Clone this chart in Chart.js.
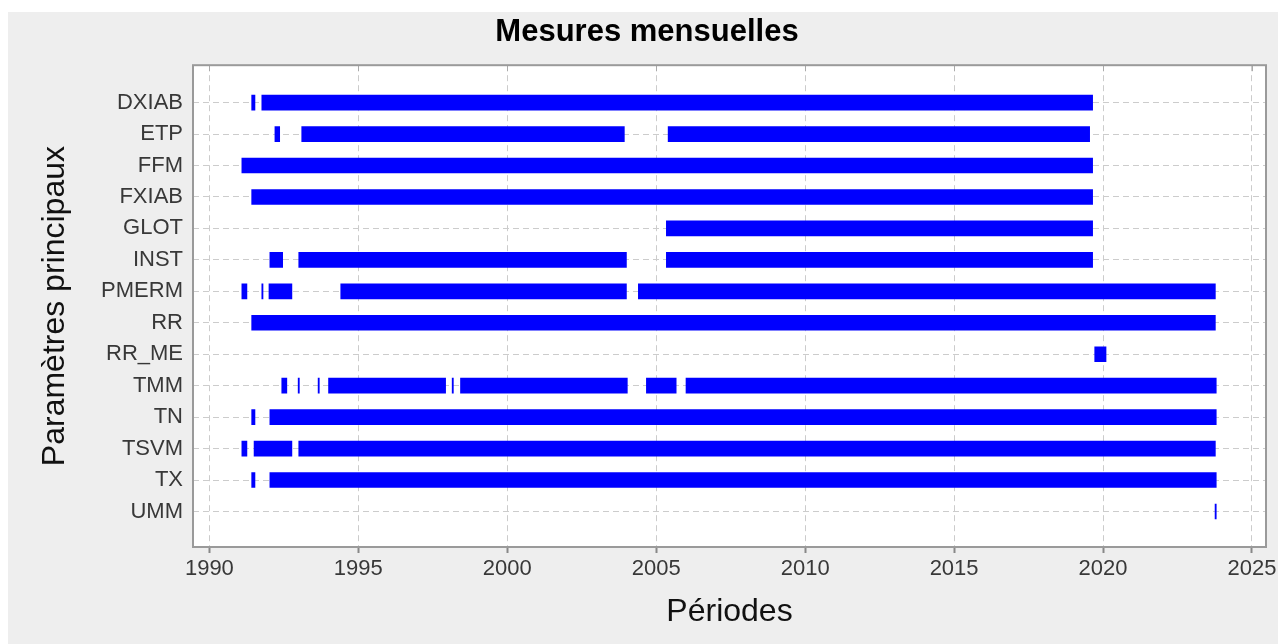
<!DOCTYPE html>
<html>
<head>
<meta charset="utf-8">
<title>Mesures mensuelles</title>
<script src="https://cdn.jsdelivr.net/npm/chart.js@4.4.0/dist/chart.umd.min.js"></script>
<style>
    html, body { margin: 0; padding: 0; background: #ffffff; }
    canvas { display: block; }
</style>
</head>
<body>
<canvas id="periodes" width="1278" height="644"></canvas>
<script>
// Parameters, top to bottom
const parametres = ['DXIAB', 'ETP', 'FFM', 'FXIAB', 'GLOT', 'INST', 'PMERM', 'RR', 'RR_ME', 'TMM', 'TN', 'TSVM', 'TX', 'UMM'];

// Measurement periods per parameter, [start, end] in decimal years
const periodesDXIAB = [[1991.42, 1991.53], [1991.76, 2019.65]];
const periodesETP = [[1992.20, 1992.36], [1993.10, 2003.93], [2005.40, 2019.55]];
const periodesFFM = [[1991.09, 2019.65]];
const periodesFXIAB = [[1991.42, 2019.65]];
const periodesGLOT = [[2005.34, 2019.65]];
const periodesINST = [[1992.03, 1992.46], [1993.00, 2004.00], [2005.34, 2019.65]];
const periodesPMERM = [[1991.09, 1991.26], [1991.76, 1991.80], [1992.00, 1992.77], [1994.41, 2004.00], [2004.40, 2023.77]];
const periodesRR = [[1991.42, 2023.77]];
const periodesRR_ME = [[2019.72, 2020.10]];
const periodesTMM = [[1992.43, 1992.60], [1992.98, 1993.02], [1993.65, 1993.69], [1994.00, 1997.93],
    [1998.15, 1998.19], [1998.43, 2004.03], [2004.67, 2005.67], [2006.00, 2023.80]];
const periodesTN = [[1991.42, 1991.53], [1992.03, 2023.80]];
const periodesTSVM = [[1991.09, 1991.26], [1991.50, 1992.77], [1993.00, 2023.77]];
const periodesTX = [[1991.42, 1991.53], [1992.03, 2023.80]];
const periodesUMM = [[2023.76, 2023.80]];

const anneesTicks = [1990, 1995, 2000, 2005, 2010, 2015, 2020, 2025];

const toutesPeriodes = [periodesDXIAB, periodesETP, periodesFFM, periodesFXIAB, periodesGLOT, periodesINST,
    periodesPMERM, periodesRR, periodesRR_ME, periodesTMM, periodesTN, periodesTSVM, periodesTX, periodesUMM];

const barres = [];
toutesPeriodes.forEach((liste, i) => {
    liste.forEach(p => barres.push({ x: p, y: i }));
});

const FONT = '"Liberation Sans", Arial, Helvetica, sans-serif';

// Figure background, white plot area, box and small inner ticks on top
const fondPlugin = {
    id: 'fond',
    beforeDraw(chart) {
        const { ctx, chartArea: a } = chart;
        ctx.save();
        ctx.fillStyle = '#ffffff';
        ctx.fillRect(0, 0, chart.width, chart.height);
        ctx.fillStyle = '#eeeeee';
        ctx.fillRect(8, 12, chart.width - 8, chart.height - 12);
        ctx.fillStyle = '#ffffff';
        ctx.fillRect(a.left, a.top, a.right - a.left, a.bottom - a.top);
        ctx.restore();
    },
    afterDraw(chart) {
        const { ctx, chartArea: a } = chart;
        const xs = chart.scales.x;
        ctx.save();
        ctx.strokeStyle = '#aaaaaa';
        ctx.lineWidth = 1;
        xs.ticks.forEach(t => {
            const px = Math.round(xs.getPixelForValue(t.value)) + 0.5;
            ctx.beginPath();
            ctx.moveTo(px, a.top);
            ctx.lineTo(px, a.top + 6);
            ctx.stroke();
        });
        ctx.strokeStyle = '#9a9a9a';
        ctx.lineWidth = 2;
        ctx.strokeRect(a.left, a.top, a.right - a.left, a.bottom - a.top);
        ctx.restore();
    }
};

new Chart(document.getElementById('periodes'), {
    type: 'bar',
    data: {
        datasets: [{
            data: barres,
            backgroundColor: '#0000ff',
            borderWidth: 0,
            borderSkipped: false,
            barThickness: 15
        }]
    },
    options: {
        indexAxis: 'y',
        responsive: false,
        animation: false,
        layout: { padding: { left: 28, right: 12, top: 0, bottom: 0 } },
        plugins: {
            legend: { display: false },
            tooltip: { enabled: false },
            title: {
                display: true,
                text: 'Mesures mensuelles',
                color: '#000000',
                font: { family: FONT, size: 31, weight: 'bold' },
                padding: { top: 14, bottom: 14 }
            }
        },
        scales: {
            x: {
                type: 'linear',
                min: 1989.45,
                max: 2025.47,
                afterBuildTicks: (scale) => { scale.ticks = anneesTicks.map(v => ({ value: v })); },
                afterFit: (scale) => {
                    scale.height = 97;
                    scale.paddingLeft = 0;
                    scale.paddingRight = 0;
                },
                ticks: {
                    color: '#383838',
                    font: { family: FONT, size: 22 },
                    padding: 3,
                    maxRotation: 0,
                    callback: (v) => String(v)
                },
                grid: {
                    color: '#cccccc',
                    lineWidth: 1,
                    tickLength: 6,
                    tickColor: '#888888',
                    tickWidth: 2,
                    tickBorderDash: []
                },
                border: { display: false, dash: [6, 4] },
                title: {
                    display: true,
                    text: 'Périodes',
                    color: '#111111',
                    font: { family: FONT, size: 32 },
                    padding: { top: 0, bottom: 13 }
                }
            },
            y: {
                type: 'linear',
                reverse: true,
                offset: false,
                min: -1.19,
                max: 14.13,
                afterBuildTicks: (scale) => { scale.ticks = parametres.map((_, i) => ({ value: i })); },
                afterFit: (scale) => { scale.width = 165; },
                ticks: {
                    color: '#383838',
                    font: { family: FONT, size: 22 },
                    padding: 10,
                    callback: (v) => parametres[v]
                },
                grid: {
                    offset: false,
                    color: '#cccccc',
                    lineWidth: 1,
                    drawTicks: false
                },
                border: { display: false, dash: [6, 4] },
                title: {
                    display: true,
                    text: 'Paramètres principaux',
                    color: '#111111',
                    font: { family: FONT, size: 32 },
                    padding: { top: 8, bottom: 0 }
                }
            }
        }
    },
    plugins: [fondPlugin]
});
</script>
</body>
</html>
